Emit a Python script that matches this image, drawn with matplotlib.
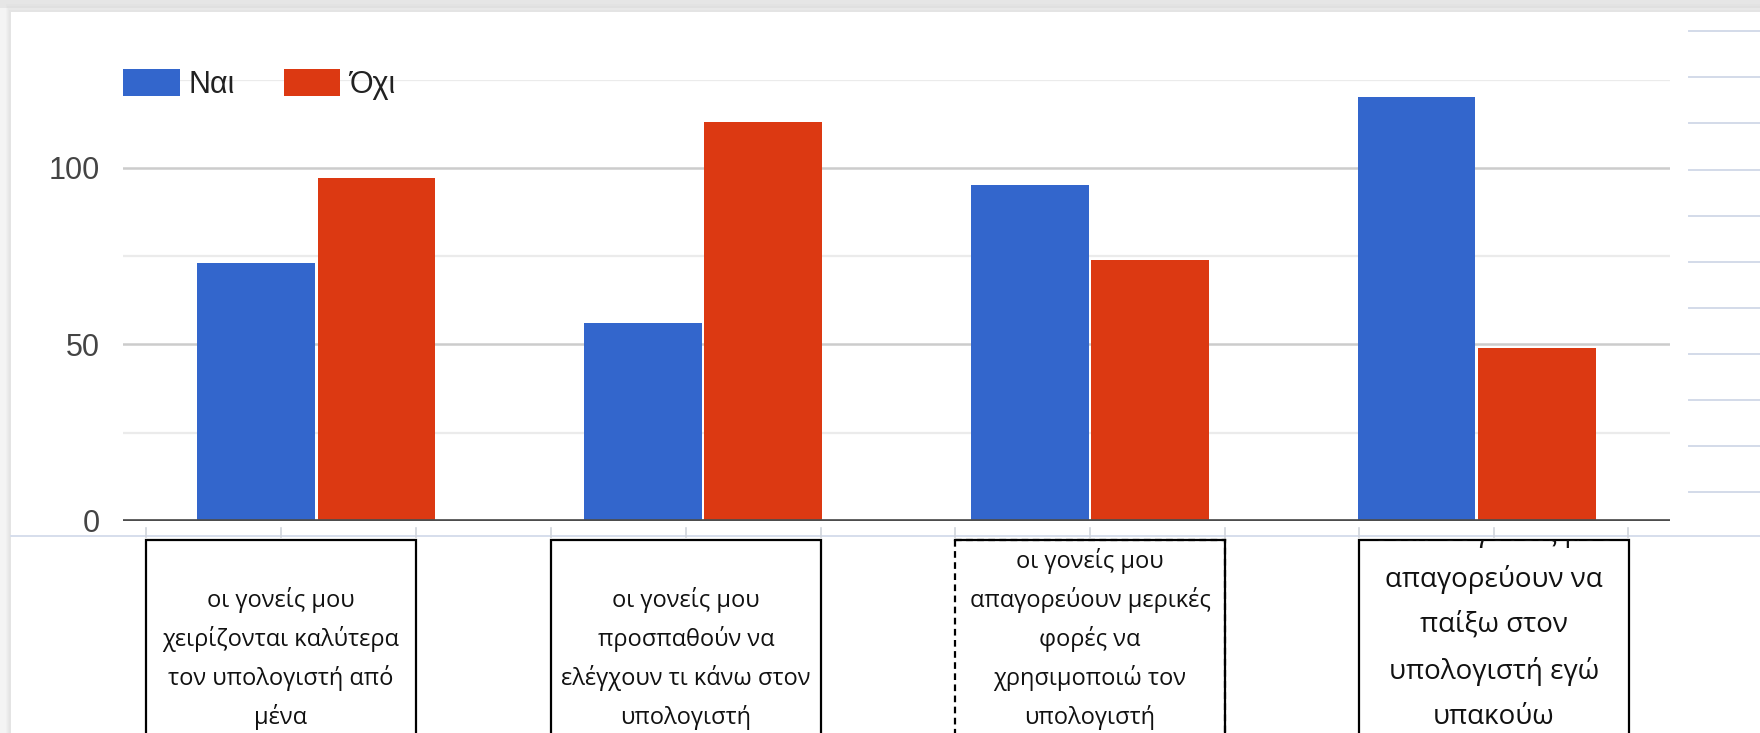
import matplotlib
matplotlib.use("Agg")
import matplotlib.pyplot as plt
import numpy as np
from matplotlib.patches import Rectangle

# data
categories = [
    "οι γονείς μου\nχειρίζονται καλύτερα\nτον υπολογιστή από\nμένα",
    "οι γονείς μου\nπροσπαθούν να\nελέγχουν τι κάνω στον\nυπολογιστή",
    "οι γονείς μου\nαπαγορεύουν μερικές\nφορές να\nχρησιμοποιώ τον\nυπολογιστή",
    "όταν οι γονείς μου\nαπαγορεύουν να\nπαίξω στον\nυπολογιστή εγώ\nυπακούω",
]
series_names = ["Ναι", "Όχι"]
nai = [73, 56, 95, 120]
ochi = [97, 113, 74, 49]
major_ticks = [0, 50, 100]
minor_ticks = [25, 75, 125]

BLUE = "#3366cc"
RED = "#dc3912"
W, H = 1760, 733

chart_font = ["Liberation Sans", "DejaVu Sans"]
box_font = ["Open Sans", "DejaVu Sans"]

fig = plt.figure(figsize=(W / 100, H / 100), dpi=100)
fig.patch.set_facecolor("#f4f4f4")

# background layer in pixel coordinates (card, sheet lines, label boxes)
bg = fig.add_axes([0, 0, 1, 1], zorder=0)
bg.set_xlim(0, W)
bg.set_ylim(H, 0)
bg.axis("off")

# soft shadow round the chart card
bg.add_patch(Rectangle((0, 0), W, 8, color="#e6e6e6", lw=0))
for i, a in enumerate([0.10, 0.10, 0.12, 0.14]):
    bg.add_patch(Rectangle((6 + i, 4 + i * 2), W, H, color="#cfcfcf", alpha=a, lw=0))
bg.add_patch(Rectangle((11, 12), W, H, color="white", lw=0))

# spreadsheet row lines to the right of the chart
for y in [31, 77, 123, 170, 216, 262, 308, 354, 400, 446, 492]:
    bg.plot([1689, W], [y, y], color="#d3dbe9", lw=1.4)
bg.plot([11, W], [536, 536], color="#d6deec", lw=1.4)
# column boundaries peeking under the axis
for x in [146, 281, 416, 551, 686, 821, 955, 1090, 1225, 1359, 1494, 1628]:
    bg.plot([x, x], [528, 537], color="#d0d4dc", lw=1.2)

# label boxes under the chart
box_left = [146, 551, 955, 1359]
box_w = 270
first_line = [600, 600, 561, 533]
line_gap = [39, 39, 39, 46]
fsize = [17, 17, 17, 20]
for i, label in enumerate(categories):
    x0 = box_left[i]
    rect = Rectangle((x0, 540), box_w, 250, facecolor="white", edgecolor="black", lw=1.6)
    if i == 2:
        rect.set_linestyle((0, (3, 2)))
        bg.add_patch(rect)
        # only the left edge is dashed
        bg.plot([x0 + box_w, x0 + box_w], [540, 760], color="black", lw=1.6)
        bg.plot([x0, x0 + box_w], [540, 540], color="black", lw=1.6)
    else:
        bg.add_patch(rect)
    for j, line in enumerate(label.split("\n")):
        t = bg.text(x0 + box_w / 2, first_line[i] + j * line_gap[i], line,
                    ha="center", va="center", fontsize=fsize[i],
                    family=box_font, color="#111111", clip_on=True)
        t.set_clip_path(rect)

# the chart itself
ax = fig.add_axes([123 / W, 1 - 521 / H, (1670 - 123) / W, (521 - 79.5) / H], zorder=2)
ax.patch.set_visible(False)
x = np.arange(len(categories))
bw = 0.305
b1 = ax.bar(x - bw / 2 - 0.003, nai, bw, color=BLUE, zorder=2, label=series_names[0])
b2 = ax.bar(x + bw / 2 + 0.003, ochi, bw, color=RED, zorder=2, label=series_names[1])
ax.set_xlim(-0.5, len(categories) - 0.5)
ax.set_ylim(0, 125)
ax.set_xticks([])
ax.set_yticks(major_ticks)
ax.set_yticks(minor_ticks, minor=True)
ax.set_yticklabels([str(v) for v in major_ticks], fontsize=22, color="#444444",
                   family=chart_font)
ax.tick_params(axis="y", which="both", length=0, pad=17)
ax.grid(axis="y", which="major", color="#cccccc", lw=1.8, zorder=0)
ax.grid(axis="y", which="minor", color="#ebebeb", lw=1.6, zorder=0)
ax.axhline(0, color="#4d4d4d", lw=3.4, zorder=3)
for s in ax.spines.values():
    s.set_visible(False)

fig.legend(handles=[b1, b2], labels=series_names, loc="upper left",
           bbox_to_anchor=(123 / W, 1 - 69 / H), ncol=2, frameon=False,
           prop={"family": chart_font, "size": 22}, handlelength=1.85,
           handleheight=1.0, handletextpad=0.3, columnspacing=1.6,
           borderpad=0, borderaxespad=0, labelcolor="#222222")

fig.savefig("out.png", dpi=100, facecolor=fig.get_facecolor())
